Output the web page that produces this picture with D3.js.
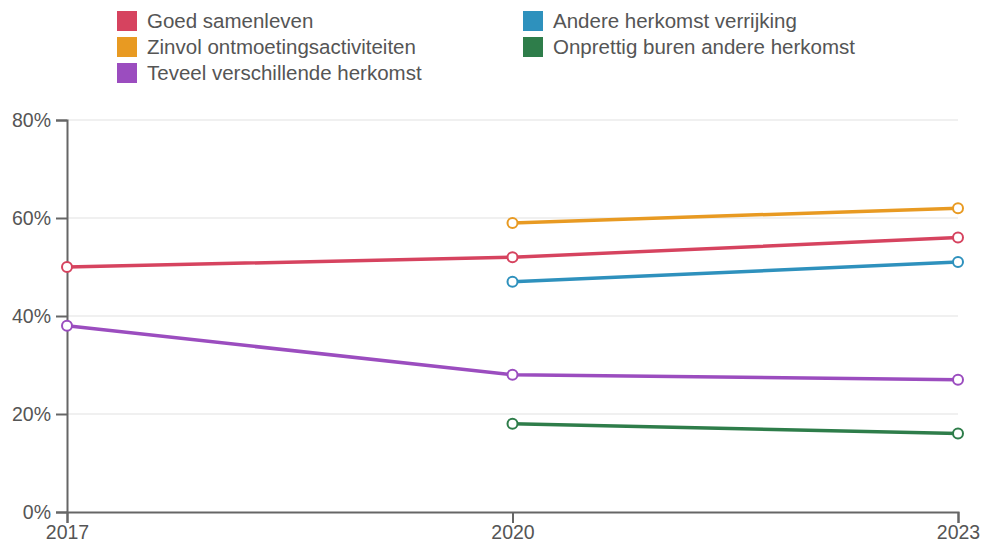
<!DOCTYPE html>
<html><head><meta charset="utf-8">
<script src="https://cdn.jsdelivr.net/npm/d3@7"></script>
<style>body{margin:0;background:#fff;}svg{display:block;font-family:"Liberation Sans",Arial,sans-serif;}</style>
</head><body>
<svg id="c" width="987" height="547"></svg>
<script>
const years = [2017, 2020, 2023];
const seriesNames = ["Goed samenleven","Andere herkomst verrijking","Zinvol ontmoetingsactiviteiten","Onprettig buren andere herkomst","Teveel verschillende herkomst"];
const goedSamenleven = [50, 52, 56];
const andereHerkomst = [null, 47, 51];
const zinvolOntmoeting = [null, 59, 62];
const onprettigBuren = [null, 18, 16];
const teveelHerkomst = [38, 28, 27];
const yTicks = [0, 20, 40, 60, 80];
const colors = ["#d6435f","#2e91bd","#e89a22","#2e7d4a","#9b4dbf"];

const seriesValues = [goedSamenleven, andereHerkomst, zinvolOntmoeting, onprettigBuren, teveelHerkomst];
const svg = d3.select("#c");
const x = d3.scaleLinear().domain([2017, 2023]).range([67, 958]);
const y = d3.scaleLinear().domain([0, 80]).range([512, 120]);

// grid
svg.append("g").selectAll("line").data(yTicks.filter(d=>d>0)).join("line")
  .attr("x1", x(2017)).attr("x2", x(2023)).attr("y1", d=>y(d)).attr("y2", d=>y(d))
  .attr("stroke", "#ebebeb").attr("stroke-width", 1.5);

const yAxis = svg.append("g").attr("transform", `translate(${x(2017)},0)`)
  .call(d3.axisLeft(y).tickValues(yTicks).tickFormat(d=>d+"%").tickSizeOuter(0).tickSize(11).tickPadding(5));
const xAxis = svg.append("g").attr("transform", `translate(0,${y(0)})`)
  .call(d3.axisBottom(x).tickValues(years).tickFormat(d3.format("d")).tickSizeOuter(0).tickSize(11).tickPadding(2));
[yAxis, xAxis].forEach(a=>{
  a.selectAll("path,line").attr("stroke","#666").attr("stroke-width",2);
  a.selectAll("text").attr("fill","#555").style("font-size","19.5px").style("font-family","'Liberation Sans',Arial,sans-serif");
});

const line = d3.line().defined(d=>d.v!=null).x(d=>x(d.year)).y(d=>y(d.v));
seriesValues.forEach((vals, i) => {
  const pts = years.map((yr, j) => ({year: yr, v: vals[j]}));
  svg.append("path").datum(pts).attr("d", line).attr("fill","none")
    .attr("stroke", colors[i]).attr("stroke-width", 3.5);
  svg.append("g").selectAll("circle").data(pts.filter(d=>d.v!=null)).join("circle")
    .attr("cx", d=>x(d.year)).attr("cy", d=>y(d.v)).attr("r", 5)
    .attr("fill","#fff").attr("stroke", colors[i]).attr("stroke-width", 2);
});

// legend
const legendOrder = [0,2,4,1,3];
const lg = svg.append("g");
legendOrder.forEach((si, k) => {
  const col = k < 3 ? 0 : 1, row = k < 3 ? k : k-3;
  const lx = col === 0 ? 117 : 523, ly = 11 + row*26;
  lg.append("rect").attr("x", lx).attr("y", ly).attr("width", 20).attr("height", 20).attr("fill", colors[si]);
  lg.append("text").attr("x", lx+30).attr("y", ly+10).attr("dy","0.35em")
    .attr("fill","#555").style("font-size","20.5px").text(seriesNames[si]);
});
</script>
</body></html>
